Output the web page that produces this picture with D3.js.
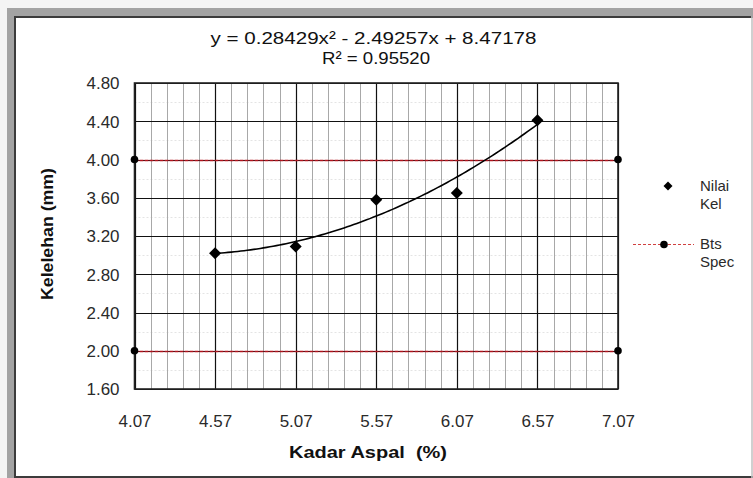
<!DOCTYPE html>
<html>
<head>
<meta charset="utf-8">
<script src="https://cdn.jsdelivr.net/npm/d3@7"></script>
<style>
  html, body { margin: 0; padding: 0; background: #fff; }
  svg { display: block; font-family: "Liberation Sans", Arial, sans-serif; }
</style>
</head>
<body>
<svg id="chart" width="753" height="478"></svg>
<script>
// Asphalt content (%) and measured flow (mm)
const kadarAspal = [4.57, 5.07, 5.57, 6.07, 6.57];
const nilaiKel = [3.02, 3.09, 3.58, 3.65, 4.41];

// Specification limits (drawn across the full x range)
const specX = [4.07, 7.07];
const specLimits = [4.00, 2.00];

// Quadratic trendline coefficients: a*x^2 + b*x + c
const trendCoef = [0.28429, -2.49257, 8.47178];
const rSquared = "0.95520";

// Axis tick labels
const xTicks = [4.07, 4.57, 5.07, 5.57, 6.07, 6.57, 7.07];
const yTicks = [1.60, 2.00, 2.40, 2.80, 3.20, 3.60, 4.00, 4.40, 4.80];

const svg = d3.select("#chart");
const W = 753, H = 478;
const FONT = "'Liberation Sans', Arial, sans-serif";

// Window-style frame
svg.append("rect").attr("x", 0).attr("y", 0).attr("width", W).attr("height", H).attr("fill", "#f4f4f4");
svg.append("rect").attr("x", 7).attr("y", 8).attr("width", W - 7).attr("height", H - 8).attr("fill", "#a3a3a3");
svg.append("rect").attr("x", 14).attr("y", 16).attr("width", W - 16).attr("height", 462).attr("fill", "#3c3c3c");
svg.append("rect").attr("x", 16).attr("y", 18).attr("width", W - 18).attr("height", 458).attr("fill", "#ffffff");
svg.append("rect").attr("x", 751).attr("y", 18).attr("width", 2).attr("height", 458).attr("fill", "#d0d0d0");

const plot = { left: 134.5, right: 618, top: 83, bottom: 389 };

const x = d3.scaleLinear().domain([4.07, 7.07]).range([plot.left, plot.right]);
const y = d3.scaleLinear().domain([1.60, 4.80]).range([plot.bottom, plot.top]);

const g = svg.append("g");

// Minor horizontal grid (every 0.2), faint dotted
const yMinor = d3.range(1.8, 4.8, 0.4);
g.selectAll("line.ymin").data(yMinor).join("line")
  .attr("x1", plot.left).attr("x2", plot.right)
  .attr("y1", d => Math.round(y(d)) + 0.5).attr("y2", d => Math.round(y(d)) + 0.5)
  .attr("stroke", "#e4e4e4").attr("stroke-width", 1).attr("stroke-dasharray", "2,2");

// Minor vertical grid (every 0.1)
const xMinor = d3.range(0, 31).map(i => 4.07 + i * 0.1).filter((d, i) => i % 5 !== 0);
g.selectAll("line.xmin").data(xMinor).join("line")
  .attr("x1", d => Math.round(x(d)) + 0.5).attr("x2", d => Math.round(x(d)) + 0.5)
  .attr("y1", plot.top).attr("y2", plot.bottom)
  .attr("stroke", "#a8a8a8").attr("stroke-width", 1);

// Major grid
g.selectAll("line.xmaj").data(xTicks).join("line")
  .attr("x1", d => Math.round(x(d)) + 0.5).attr("x2", d => Math.round(x(d)) + 0.5)
  .attr("y1", plot.top).attr("y2", plot.bottom)
  .attr("stroke", "#111").attr("stroke-width", 1.2);
g.selectAll("line.ymaj").data(yTicks).join("line")
  .attr("x1", plot.left).attr("x2", plot.right)
  .attr("y1", d => Math.round(y(d)) + 0.5).attr("y2", d => Math.round(y(d)) + 0.5)
  .attr("stroke", "#111").attr("stroke-width", 1.2);

// Plot border
g.append("rect")
  .attr("x", plot.left).attr("y", plot.top)
  .attr("width", plot.right - plot.left).attr("height", plot.bottom - plot.top)
  .attr("fill", "none").attr("stroke", "#222").attr("stroke-width", 1.6);

// Axes (labels only)
const xAxis = d3.axisBottom(x).tickValues(xTicks).tickFormat(d3.format(".2f")).tickSize(0).tickPadding(0);
const yAxis = d3.axisLeft(y).tickValues(yTicks).tickFormat(d3.format(".2f")).tickSize(0).tickPadding(0);

const gx = svg.append("g").attr("transform", `translate(0,${plot.bottom + 38})`).call(xAxis);
gx.select(".domain").remove();
gx.selectAll("text").attr("font-size", 16).attr("fill", "#2a2a2a")
  .attr("font-family", FONT).attr("dy", "0").attr("textLength", 33).attr("lengthAdjust", "spacingAndGlyphs");

const gy = svg.append("g").attr("transform", `translate(${plot.left - 15},0)`).call(yAxis);
gy.select(".domain").remove();
gy.selectAll("text").attr("font-size", 16).attr("fill", "#2a2a2a")
  .attr("font-family", FONT).attr("dy", "0.36em").attr("textLength", 33).attr("lengthAdjust", "spacingAndGlyphs");

// Specification limit lines
const specLine = d3.line().x(d => x(d[0])).y(d => Math.round(y(d[1])) + 0.5);
specLimits.forEach(v => {
  const pts = specX.map(sx => [sx, v]);
  g.append("path").attr("d", specLine(pts))
    .attr("fill", "none").attr("stroke", "#b0141e").attr("stroke-width", 1.6)
    .attr("stroke-dasharray", "4,1");
  g.selectAll(null).data(pts).join("circle")
    .attr("cx", d => x(d[0])).attr("cy", d => y(d[1])).attr("r", 3.8).attr("fill", "#000");
});

// Trendline from the fitted coefficients
const poly = t => trendCoef[0] * t * t + trendCoef[1] * t + trendCoef[2];
const tx = d3.range(0, 101).map(i => kadarAspal[0] + (kadarAspal[kadarAspal.length - 1] - kadarAspal[0]) * i / 100);
g.append("path")
  .attr("d", d3.line().x(d => x(d)).y(d => y(poly(d)))(tx))
  .attr("fill", "none").attr("stroke", "#000").attr("stroke-width", 1.6);

// Measured points (diamonds)
const diamond = s => `M0,${-s}L${s},0L0,${s}L${-s},0Z`;
g.selectAll("path.pt").data(kadarAspal.map((k, i) => [k, nilaiKel[i]])).join("path")
  .attr("d", diamond(6))
  .attr("transform", d => `translate(${x(d[0])},${y(d[1])})`)
  .attr("fill", "#000");

// Equation text
svg.append("text").attr("x", 373.5).attr("y", 44).attr("text-anchor", "middle")
  .attr("font-size", 17).attr("fill", "#111").attr("font-family", FONT)
  .attr("textLength", 326).attr("lengthAdjust", "spacingAndGlyphs")
  .text(`y = ${trendCoef[0].toFixed(5)}x² - ${Math.abs(trendCoef[1]).toFixed(5)}x + ${trendCoef[2].toFixed(5)}`);
svg.append("text").attr("x", 376).attr("y", 64).attr("text-anchor", "middle")
  .attr("font-size", 17).attr("fill", "#111").attr("font-family", FONT)
  .attr("textLength", 108).attr("lengthAdjust", "spacingAndGlyphs")
  .text(`R² = ${rSquared}`);

// Axis titles
svg.append("text").attr("x", 368).attr("y", 458).attr("text-anchor", "middle")
  .attr("font-size", 17).attr("font-weight", "bold").attr("fill", "#111").attr("font-family", FONT)
  .attr("textLength", 158).attr("lengthAdjust", "spacingAndGlyphs")
  .style("white-space", "pre")
  .text("Kadar Aspal  (%)");
svg.append("text").attr("transform", "translate(53,234) rotate(-90)").attr("text-anchor", "middle")
  .attr("font-size", 17).attr("font-weight", "bold").attr("fill", "#111").attr("font-family", FONT)
  .attr("textLength", 132).attr("lengthAdjust", "spacingAndGlyphs")
  .text("Kelelehan (mm)");

// Legend
const lg = svg.append("g").attr("font-family", FONT).attr("font-size", 15).attr("fill", "#2a2a2a");
lg.append("path").attr("d", diamond(4.5))
  .attr("transform", "translate(668,186)").attr("fill", "#000");
lg.append("text").attr("x", 700).attr("y", 191).text("Nilai");
lg.append("text").attr("x", 700).attr("y", 209).text("Kel");
lg.append("line").attr("x1", 633).attr("x2", 694).attr("y1", 244.5).attr("y2", 244.5)
  .attr("stroke", "#d04040").attr("stroke-width", 1.2).attr("stroke-dasharray", "3,2");
lg.append("circle").attr("cx", 664).attr("cy", 244.5).attr("r", 3.8).attr("fill", "#000");
lg.append("text").attr("x", 700).attr("y", 249).text("Bts");
lg.append("text").attr("x", 700).attr("y", 267).text("Spec");
</script>
</body>
</html>
